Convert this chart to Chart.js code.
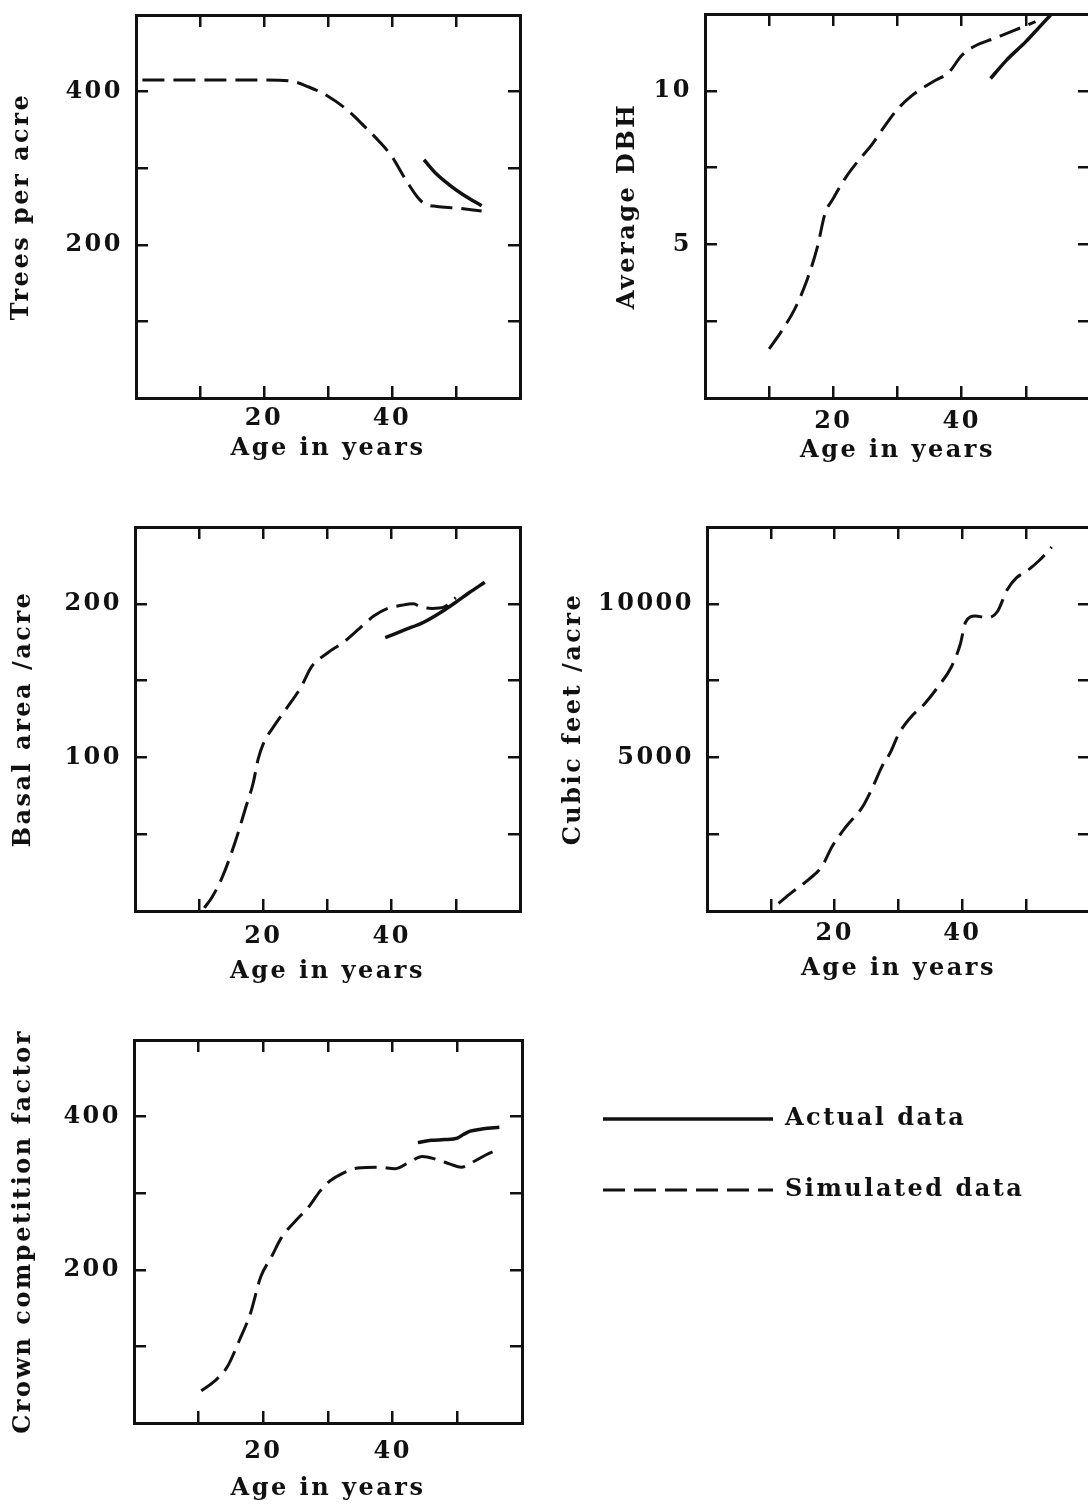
<!DOCTYPE html>
<html>
<head>
<meta charset="utf-8">
<script src="https://cdn.jsdelivr.net/npm/chart.js@4.4.0/dist/chart.umd.min.js"></script>
<style>
    html, body { margin: 0; padding: 0; background: #fff; overflow: hidden; width: 1088px; height: 1506px; }
    canvas { position: absolute; display: block; }
</style>
</head>
<body>
<script>
// ---- data (age in years -> value) ----
const ageTickLabels = [20, 40];

const treesTickLabels = [200, 400];
const treesSimAge = [1, 5, 10, 15, 20, 24, 27, 30, 33, 36, 38, 40, 42, 44, 45, 47, 50, 54];
const treesSim    = [415, 415, 415, 415, 415, 414, 406, 394, 376, 352, 335, 315, 287, 262, 254, 250, 248, 244];
const treesActAge = [45, 47, 49, 51, 53, 54];
const treesAct    = [311, 292, 278, 266, 256, 251];

const dbhTickLabels = [5, 10];
const dbhSimAge = [10, 12, 14, 16, 17.5, 18.7, 20, 22, 24, 26, 28, 30, 32, 34, 36, 38, 40, 42, 45, 48, 51.5];
const dbhSim    = [1.6, 2.2, 2.9, 3.9, 4.9, 6.0, 6.5, 7.2, 7.75, 8.25, 8.85, 9.4, 9.8, 10.1, 10.35, 10.6, 11.15, 11.45, 11.7, 11.95, 12.25];
const dbhActAge = [44.5, 47, 50, 52, 54];
const dbhAct    = [10.4, 11.0, 11.6, 12.05, 12.5];

const basalTickLabels = [100, 200];
const basalSimAge = [10.8, 12, 13.6, 15.7, 17.3, 18.4, 19.2, 20, 21.6, 23.8, 25.9, 27.5, 30, 32.5, 35, 37.2, 39.4, 41.5, 43.4, 44.5, 46.3, 48.2, 50];
const basalSim    = [2, 9, 22, 46, 68, 83, 99, 109, 120, 133, 146, 159, 168, 175, 184, 192, 197, 199, 200, 198, 197, 198, 204];
const basalActAge = [39, 42, 45, 47.5, 50, 52, 54.5];
const basalAct    = [178, 183, 188, 194, 201, 207, 214];

const cubicTickLabels = [5000, 10000];
const cubicSimAge = [11.2, 13.2, 15.9, 18, 19.6, 21.8, 24.4, 26, 27.4, 28.7, 30, 31.9, 34.1, 36.2, 38.3, 39.7, 40.5, 42, 44, 45.5, 47, 48.5, 50, 52, 54];
const cubicSim    = [250, 590, 1020, 1450, 2100, 2750, 3400, 4050, 4700, 5150, 5750, 6300, 6750, 7300, 7950, 8700, 9400, 9600, 9550, 9750, 10450, 10850, 11050, 11400, 11850];

const ccfTickLabels = [200, 400];
const ccfSimAge = [10.4, 12.5, 14.4, 16.3, 18, 19.6, 21.2, 22.8, 25, 27.1, 28.8, 30.3, 32.5, 34.6, 37.8, 40.4, 42.5, 44.6, 46.8, 48.9, 50.6, 52.7, 54.9, 56.5];
const ccfSim    = [42, 55, 73, 108, 143, 191, 216, 242, 264, 283, 303, 316, 327, 333, 334, 332, 340, 348, 344, 338, 334, 342, 352, 357];
const ccfActAge = [43.9, 46, 48, 50, 51, 52, 54, 56.5];
const ccfAct    = [366, 369, 370, 372, 377, 381, 384, 386];

const ACTUAL_LABEL = "Actual data";
const SIMULATED_LABEL = "Simulated data";

// ---- look ----
const INK = "#111";
const SIM_DASH = [22, 9];
const PAD = 30;
const SPACING = "2.5px";

Chart.defaults.font.family = "'DejaVu Serif', serif";
Chart.defaults.font.size = 24;
Chart.defaults.font.weight = "bold";
Chart.defaults.color = INK;
Chart.defaults.animation = false;

// typewriter-ish spacing for every bit of text (set before measuring and before drawing)
Chart.register({
    id: "typewriterSpacing",
    beforeLayout(chart) { chart.ctx.letterSpacing = SPACING; },
    beforeDraw(chart) { chart.ctx.letterSpacing = SPACING; }
});

function series(ages, values) {
    return ages.map((a, i) => ({ x: a, y: values[i] }));
}

function lineSet(label, ages, values, dashed) {
    return {
        label,
        data: series(ages, values),
        borderColor: INK,
        borderWidth: dashed ? 3 : 3.5,
        borderDash: dashed ? SIM_DASH : [],
        pointRadius: 0,
        cubicInterpolationMode: "monotone",
        fill: false
    };
}

// every side of the box carries inward tick marks
function frameAxis(position, extra) {
    return Object.assign({
        type: "linear",
        position,
        grid: { drawOnChartArea: false, drawTicks: true, tickLength: -12, color: INK, lineWidth: 2.5 },
        border: { display: true, color: INK, width: 3 }
    }, extra);
}

function noEdgePadding(s) {
    s.paddingTop = 0;
    s.paddingBottom = 0;
    s.paddingLeft = 0;
    s.paddingRight = 0;
}

// box = plot frame on the page; axisWidth/axisHeight = room for y and x labels
const panels = [
    { box: { left: 136, top: 15, right: 520, bottom: 398 }, axisWidth: 129, axisHeight: 65, labelPad: 18,
      title: "Trees per acre", yMax: 500, yStep: 100, yLabels: treesTickLabels,
      sim: [treesSimAge, treesSim], act: [treesActAge, treesAct] },
    { box: { left: 705, top: 14, right: 1090, bottom: 398 }, axisWidth: 92, axisHeight: 67, labelPad: 21,
      title: "Average DBH", yMax: 12.5, yStep: 2.5, yLabels: dbhTickLabels,
      sim: [dbhSimAge, dbhSim], act: [dbhActAge, dbhAct] },
    { box: { left: 135, top: 527, right: 520, bottom: 911 }, axisWidth: 126, axisHeight: 75, labelPad: 23,
      title: "Basal area /acre", yMax: 250, yStep: 50, yLabels: basalTickLabels,
      sim: [basalSimAge, basalSim], act: [basalActAge, basalAct] },
    { box: { left: 707, top: 527, right: 1090, bottom: 911 }, axisWidth: 148, axisHeight: 72, labelPad: 20,
      title: "Cubic feet /acre", yMax: 12500, yStep: 2500, yLabels: cubicTickLabels,
      sim: [cubicSimAge, cubicSim], act: null },
    { box: { left: 134, top: 1040, right: 522, bottom: 1423 }, axisWidth: 125, axisHeight: 80, labelPad: 26,
      title: "Crown competition factor", yMax: 500, yStep: 100, yLabels: ccfTickLabels,
      sim: [ccfSimAge, ccfSim], act: [ccfActAge, ccfAct] }
];

function buildPanel(p) {
    const canvas = document.createElement("canvas");
    canvas.width = p.axisWidth + (p.box.right - p.box.left) + PAD;
    canvas.height = PAD + (p.box.bottom - p.box.top) + p.axisHeight;
    canvas.style.left = (p.box.left - p.axisWidth) + "px";
    canvas.style.top = (p.box.top - PAD) + "px";
    document.body.appendChild(canvas);

    const datasets = [lineSet(SIMULATED_LABEL, p.sim[0], p.sim[1], true)];
    if (p.act) datasets.push(lineSet(ACTUAL_LABEL, p.act[0], p.act[1], false));

    new Chart(canvas, {
        type: "line",
        data: { datasets },
        options: {
            responsive: false,
            layout: { padding: { top: PAD, right: PAD, left: 0, bottom: 0 }, autoPadding: false },
            scales: {
                x: frameAxis("bottom", {
                    min: 0, max: 60,
                    ticks: {
                        stepSize: 10, padding: p.labelPad, maxRotation: 0, autoSkip: false,
                        callback: v => ageTickLabels.includes(v) ? String(v) : ""
                    },
                    title: { display: true, text: "Age in years", padding: 0 },
                    afterFit: s => { s.height = p.axisHeight; noEdgePadding(s); }
                }),
                y: frameAxis("left", {
                    min: 0, max: p.yMax,
                    ticks: {
                        stepSize: p.yStep, padding: 25,
                        callback: v => p.yLabels.includes(v) ? String(v) : ""
                    },
                    title: { display: true, text: p.title, padding: 0 },
                    afterFit: s => { s.width = p.axisWidth; noEdgePadding(s); }
                }),
                x2: frameAxis("top", {
                    min: 0, max: 60,
                    ticks: { stepSize: 10, display: false },
                    afterFit: s => { s.height = 0; noEdgePadding(s); }
                }),
                y2: frameAxis("right", {
                    min: 0, max: p.yMax,
                    ticks: { stepSize: p.yStep, display: false },
                    afterFit: s => { s.width = 0; noEdgePadding(s); }
                })
            },
            plugins: {
                legend: { display: false },
                tooltip: { enabled: false }
            }
        }
    });
}

panels.forEach(buildPanel);

// key, bottom right
const legendCanvas = document.createElement("canvas");
legendCanvas.width = 1000;
legendCanvas.height = 220;
legendCanvas.style.left = "556px";
legendCanvas.style.top = "1060px";
document.body.appendChild(legendCanvas);

new Chart(legendCanvas, {
    type: "line",
    data: {
        datasets: [
            lineSet(ACTUAL_LABEL, [], [], false),
            lineSet(SIMULATED_LABEL, [], [], true)
        ]
    },
    options: {
        responsive: false,
        layout: { padding: 0, autoPadding: false },
        scales: { x: { display: false }, y: { display: false } },
        plugins: {
            tooltip: { enabled: false },
            legend: {
                position: "left",
                align: "start",
                labels: {
                    usePointStyle: true,
                    pointStyle: "line",
                    pointStyleWidth: 170,
                    padding: 47,
                    color: INK,
                    generateLabels: chart => chart.data.datasets.map((ds, i) => ({
                        text: ds.label,
                        datasetIndex: i,
                        fillStyle: ds.borderColor,
                        strokeStyle: ds.borderColor,
                        lineWidth: ds.borderWidth,
                        lineDash: ds.borderDash,
                        pointStyle: "line",
                        fontColor: INK,
                        hidden: false
                    }))
                }
            }
        }
    }
});
</script>
</body>
</html>
